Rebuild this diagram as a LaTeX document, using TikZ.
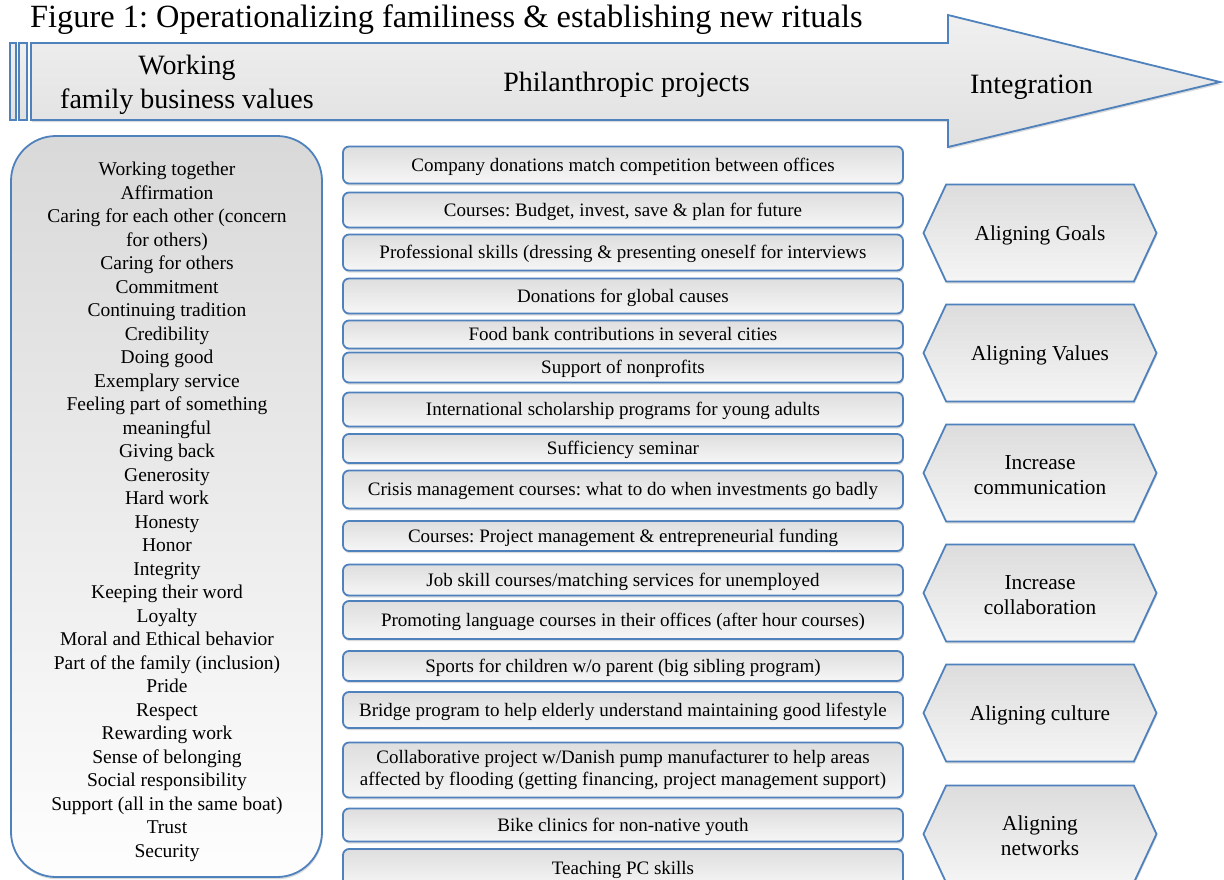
\documentclass[tikz,border=0pt]{standalone}
\usepackage{fontspec}
\setmainfont{Liberation Serif}
\frenchspacing
\usetikzlibrary{shapes.symbols,shadows}
\definecolor{bblue}{RGB}{79,129,189}
\begin{document}
\begin{tikzpicture}[x=1pt,y=-1pt,
  shd/.style={drop shadow={opacity=0.28, shadow xshift=0.8pt, shadow yshift=-2.2pt}},
  pbase/.style={draw=bblue, line width=1.8pt, rounded corners=6pt, top color=gray!26, bottom color=gray!7,
    minimum width=560pt, inner sep=0pt, align=center, font=\fontsize{19}{22.5}\selectfont, shd},
  pbox/.style={pbase, text height=16pt, text depth=3.5pt},
  hexa/.style={signal, signal to=west and east, signal pointer angle=130, draw=bblue, line width=1.8pt,
    top color=gray!27, bottom color=gray!8, minimum width=233pt, minimum height=97pt, inner sep=0pt, shd},
  htxt/.style={align=center, inner sep=0pt, font=\fontsize{21.3}{25}\selectfont},
  bigtxt/.style={font=\fontsize{28}{34}\selectfont, align=center, anchor=base},
]
\useasboundingbox (0,0) rectangle (1224,879);
\fill[white] (0,0) rectangle (1224,879);

% title
\node[anchor=base west, inner sep=0pt, font=\fontsize{32.4}{36}\selectfont] (title) at (30,27)
  {Figure 1: Operationalizing familiness \& establishing new rituals};

% big arrow
\path[draw=bblue, line width=1.8pt, top color=gray!12, bottom color=gray!24, shd]
  (31,43) -- (948,43) -- (948,15) -- (1220,82) -- (948,147) -- (948,120) -- (31,120) -- cycle;
\path[draw=bblue, line width=1.5pt, top color=gray!12, bottom color=gray!24] (10,43) rectangle (16,120);
\path[draw=bblue, line width=1.5pt, top color=gray!12, bottom color=gray!24] (19,43) rectangle (27,120);
\node[bigtxt] (hwork) at (187,108) {Working\\family business values};
\node[bigtxt] (hphil) at (626.5,91) {Philanthropic projects};
\node[bigtxt] (hint) at (1031.5,93) {Integration};

% left panel
\node[draw=bblue, line width=1.8pt, rounded corners=45pt, top color=gray!30, bottom color=gray!1,
  minimum width=311pt, minimum height=741pt, inner sep=0pt, shd] (panel) at (166.5,506.5) {};
\node[anchor=base, align=center, inner sep=0pt, font=\fontsize{19.5}{23.5}\selectfont] (values) at (167,857)
{Working together\\ Affirmation\\ Caring for each other (concern\\ for others)\\ Caring for others\\
 Commitment\\ Continuing tradition\\ Credibility\\ Doing good\\ Exemplary service\\
 Feeling part of something\\ meaningful\\ Giving back\\ Generosity\\ Hard work\\ Honesty\\ Honor\\
 Integrity\\ Keeping their word\\ Loyalty\\ Moral and Ethical behavior\\ Part of the family (inclusion)\\
 Pride\\ Respect\\ Rewarding work\\ Sense of belonging\\ Social responsibility\\
 Support (all in the same boat)\\ Trust\\ Security};

% projects
\node[pbox, minimum height=37pt] (p1) at (623,165) {Company donations match competition between offices};
\node[pbox, minimum height=35pt] (p2) at (623,210) {Courses: Budget, invest, save \& plan for future};
\node[pbox, minimum height=36pt] (p3) at (623,252.5) {Professional skills (dressing \& presenting oneself for interviews};
\node[pbox, minimum height=35pt] (p4) at (623,296) {Donations for global causes};
\node[pbox, minimum height=28pt] (p5) at (623,334.5) {Food bank contributions in several cities};
\node[pbox, minimum height=30pt] (p6) at (623,367.5) {Support of nonprofits};
\node[pbox, minimum height=34pt] (p7) at (623,409.5) {International scholarship programs for young adults};
\node[pbox, minimum height=29pt] (p8) at (623,448.5) {Sufficiency seminar};
\node[pbox, minimum height=38pt] (p9) at (623,489.5) {Crisis management courses: what to do when investments go badly};
\node[pbox, minimum height=30pt] (p10) at (623,536) {Courses: Project management \& entrepreneurial funding};
\node[pbox, minimum height=31pt] (p11) at (623,580) {Job skill courses/matching services for unemployed};
\node[pbox, minimum height=38pt] (p12) at (623,620) {Promoting language courses in their offices (after hour courses)};
\node[pbox, minimum height=30pt] (p13) at (623,666) {Sports for children w/o parent (big sibling program)};
\node[pbox, minimum height=36pt] (p14) at (623,710) {Bridge program to help elderly understand maintaining good lifestyle};
\node[pbase, minimum height=55pt] (p15) at (623,770)
  {Collaborative project w/Danish pump manufacturer to help areas\\affected by flooding (getting financing, project management support)};
\node[pbox, minimum height=33pt] (p16) at (623,825) {Bike clinics for non-native youth};
\node[pbox, minimum height=38pt] (p17) at (623,868) {Teaching PC skills};

% integration hexagons
\node[hexa] (h1) at (1040,233) {};
\node[hexa] (h2) at (1040,353) {};
\node[hexa] (h3) at (1040,473) {};
\node[hexa] (h4) at (1040,593) {};
\node[hexa] (h5) at (1040,713) {};
\node[hexa] (h6) at (1040,834) {};
\node[htxt] (t1) at ([yshift=-2pt]h1.center) {Aligning Goals};
\node[htxt] (t2) at ([yshift=-2pt]h2.center) {Aligning Values};
\node[htxt] (t3) at ([yshift=-2pt]h3.center) {Increase\\communication};
\node[htxt] (t4) at ([yshift=-2pt]h4.center) {Increase\\collaboration};
\node[htxt] (t5) at ([yshift=-2pt]h5.center) {Aligning culture};
\node[htxt] (t6) at ([yshift=-2pt]h6.center) {Aligning\\networks};
\end{tikzpicture}
\end{document}
